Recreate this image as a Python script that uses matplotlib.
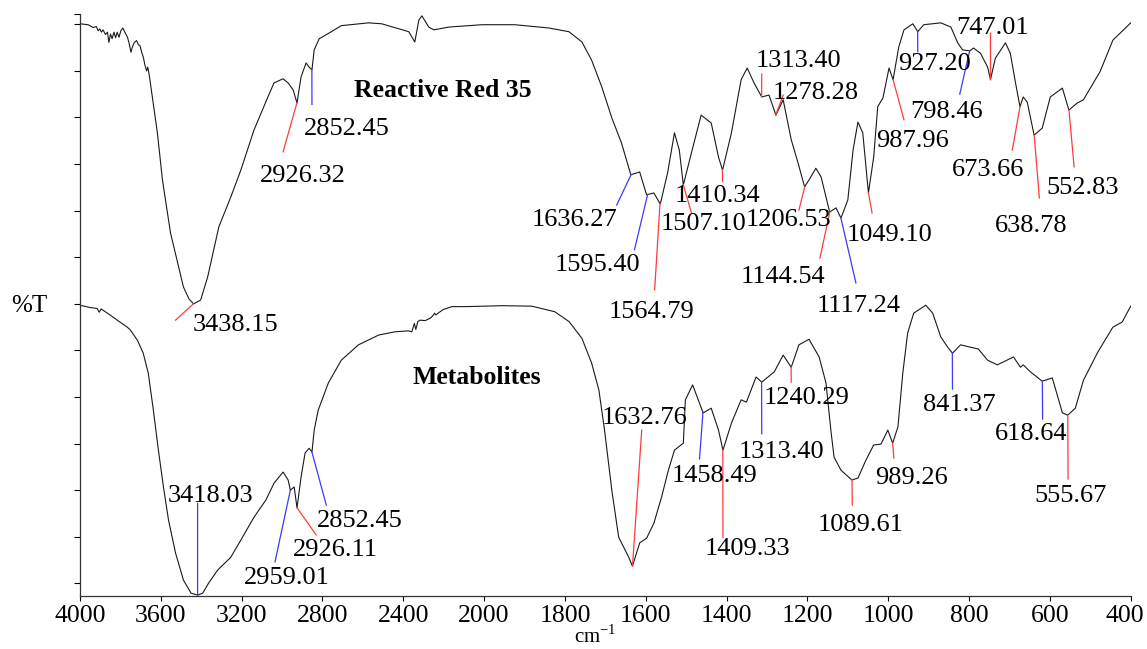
import numpy as np
import matplotlib
matplotlib.use('Agg')
import matplotlib.pyplot as plt
import matplotlib.transforms as mtransforms

plt.rcParams['font.family'] = ['Liberation Serif', 'DejaVu Serif']
plt.rcParams['mathtext.fontset'] = 'custom'
plt.rcParams['mathtext.rm'] = 'Liberation Serif'

# Reactive Red 35 spectrum (wavenumber, arbitrary %T scale)
rr35_wn = [4000, 3960, 3935, 3919, 3910, 3902, 3894, 3886, 3874, 3864, 3857, 3849, 3841, 3832,
           3824, 3816, 3807, 3798, 3788, 3778, 3765, 3756, 3748, 3741, 3731, 3720, 3711, 3703,
           3695, 3687, 3678, 3670, 3665, 3658, 3642, 3617, 3592, 3552, 3517, 3488, 3460, 3438,
           3403, 3368, 3313, 3254, 3204, 3139, 3070, 3040, 2995, 2970, 2945, 2926, 2906, 2881,
           2866, 2852, 2841, 2816, 2756, 2707, 2572, 2507, 2373, 2343, 2323, 2308, 2274, 2249,
           2174, 2010, 1924, 1840, 1790, 1758, 1734, 1709, 1684, 1660, 1637, 1615, 1598, 1580,
           1564, 1546, 1529, 1517, 1507, 1487, 1463, 1438, 1420, 1410, 1388, 1364, 1349, 1332,
           1313, 1295, 1278, 1260, 1240, 1223, 1207, 1196, 1179, 1166, 1145, 1129, 1117, 1100,
           1087, 1075, 1063, 1049, 1036, 1026, 1013, 998, 988, 974, 961, 939, 927, 912, 870,
           845, 828, 816, 798, 789, 772, 754, 747, 735, 710, 698, 685, 674, 666, 656, 639, 619,
           599, 569, 553, 532, 517, 476, 444, 426, 400]
rr35_t = [120.1, 119.9, 119.3, 119.5, 118.6, 119.0, 118.3, 118.8, 117.8, 118.3, 116.1, 117.9,
          116.9, 118.3, 117.1, 118.3, 117.2, 118.6, 119.2, 118.3, 117.2, 115.8, 114.0, 115.1,
          116.1, 116.5, 115.6, 115.4, 114.0, 113.0, 111.1, 110.0, 110.8, 109.3, 104.4, 96.7,
          86.6, 75.2, 68.8, 63.6, 61.0, 60.0, 60.8, 65.8, 76.5, 82.9, 88.7, 97.3, 104.4, 107.4,
          108.3, 107.4, 105.9, 103.1, 108.7, 111.7, 110.8, 110.2, 114.5, 116.9, 118.4, 119.7,
          120.3, 120.1, 118.4, 116.2, 120.9, 121.8, 119.4, 118.8, 119.4, 119.9, 119.9, 119.2,
          118.4, 116.2, 112.3, 106.6, 99.9, 94.5, 87.7, 88.3, 83.4, 83.8, 81.4, 88.1, 96.7,
          93.0, 85.5, 92.4, 100.5, 98.8, 91.5, 88.7, 96.7, 108.1, 110.6, 107.4, 104.4, 104.8,
          100.5, 103.8, 95.2, 90.2, 85.1, 86.6, 89.1, 87.2, 79.7, 80.6, 78.4, 82.3, 93.0, 99.0,
          96.7, 83.8, 91.5, 102.3, 104.2, 110.6, 108.1, 115.1, 118.8, 120.1, 118.4, 119.9,
          120.3, 119.4, 116.0, 114.5, 114.3, 114.9, 113.8, 110.8, 108.1, 112.7, 116.0, 113.8,
          107.4, 102.3, 104.4, 103.3, 96.2, 97.7, 104.4, 106.3, 101.6, 103.1, 103.8, 109.8,
          116.6, 118.1, 120.3]

# Metabolites spectrum
met_wn = [4000, 3950, 3915, 3905, 3895, 3851, 3816, 3766, 3751, 3716, 3687, 3662, 3637, 3612,
          3587, 3562, 3527, 3488, 3450, 3418, 3393, 3363, 3318, 3254, 3204, 3139, 3080, 3040,
          2995, 2970, 2959, 2940, 2926, 2906, 2886, 2866, 2852, 2841, 2821, 2771, 2707, 2622,
          2522, 2441, 2375, 2358, 2350, 2345, 2338, 2328, 2317, 2292, 2267, 2255, 2245, 2239,
          2225, 2201, 2159, 2093, 2010, 1956, 1882, 1825, 1790, 1758, 1734, 1716, 1702, 1684,
          1667, 1642, 1633, 1615, 1598, 1580, 1561, 1544, 1529, 1507, 1502, 1484, 1470, 1458,
          1438, 1420, 1409, 1388, 1364, 1351, 1327, 1313, 1282, 1260, 1240, 1221, 1196, 1171,
          1154, 1142, 1134, 1117, 1090, 1075, 1055, 1036, 1018, 1001, 989, 976, 964, 952, 937,
          907, 890, 870, 853, 841, 821, 777, 754, 730, 690, 673, 666, 648, 619, 594, 569, 556,
          537, 517, 481, 444, 421, 400]
met_t = [59.7, 59.2, 59.0, 58.2, 58.9, 57.6, 56.5, 55.0, 54.4, 52.2, 49.4, 45.1, 37.2, 28.6,
         20.7, 13.6, 6.5, 0.7, -2.1, -2.5, -2.1, 0.1, 2.9, 5.6, 9.3, 14.2, 17.9, 21.5, 23.9,
         22.2, 20.0, 20.7, 16.2, 22.8, 28.0, 29.0, 28.2, 32.9, 37.2, 43.0, 47.9, 51.2, 53.3,
         54.0, 54.2, 54.0, 55.1, 55.8, 54.5, 56.2, 56.5, 56.4, 56.9, 57.4, 58.0, 57.6, 58.1,
         58.8, 59.4, 59.4, 59.5, 59.6, 59.5, 58.3, 56.2, 52.6, 47.3, 41.5, 32.9, 20.0, 9.9,
         5.6, 3.7, 8.7, 9.7, 12.9, 18.5, 24.3, 28.6, 30.1, 39.4, 42.6, 39.4, 36.6, 37.6, 32.9,
         28.6, 34.4, 39.4, 38.9, 44.3, 43.2, 45.4, 49.0, 46.4, 51.2, 52.4, 48.6, 43.0, 32.9,
         27.1, 24.3, 22.2, 22.6, 26.5, 29.7, 29.9, 32.9, 30.1, 33.6, 45.1, 53.7, 58.0, 59.7,
         58.0, 52.9, 50.7, 49.4, 51.2, 50.3, 47.9, 46.9, 48.6, 46.4, 46.9, 45.4, 43.4, 44.1,
         36.6, 36.1, 37.6, 43.6, 49.7, 55.0, 56.1, 59.5]

# peak labels
rr35_peaks = ['3438.15', '2926.32', '2852.45', '1636.27', '1595.40', '1564.79', '1507.10',
              '1410.34', '1313.40', '1278.28', '1206.53', '1144.54', '1117.24', '1049.10',
              '987.96', '927.20', '798.46', '747.01', '673.66', '638.78', '552.83']
met_peaks = ['3418.03', '2959.01', '2926.11', '2852.45', '1632.76', '1458.49', '1409.33',
             '1313.40', '1240.29', '1089.61', '989.26', '841.37', '618.64', '555.67']

xtick_vals = [4000, 3600, 3200, 2800, 2400, 2000, 1800, 1600, 1400, 1200, 1000, 800, 600, 400]

# label layout: line end (wn, y) and text centre (wn, y), line colour
RED, BLUE = '#ff3b3b', '#3b3bff'
rr35_layout = [
    ((3527, 56.5), (3229, 56.1), RED),
    ((2995, 92.6), (2896, 87.9), RED),
    ((2852, 102.8), (2682, 98.0), BLUE),
    ((1672, 81.2), (1776, 78.6), BLUE),
    ((1628, 71.6), (1719, 68.8), BLUE),
    ((1578, 63.0), (1586, 58.7), RED),
    ((1487, 79.5), (1457, 77.6), RED),
    ((1410, 86.2), (1423, 83.6), RED),
    ((1313, 109.3), (1223, 112.6), RED),
    ((1260, 104.8), (1179, 105.7), RED),
    ((1221, 80.1), (1248, 78.6), RED),
    ((1169, 69.8), (1260, 66.4), RED),
    ((1080, 64.5), (1073, 60.0), BLUE),
    ((1040, 79.5), (996, 75.4), RED),
    ((961, 99.5), (939, 95.4), RED),
    ((927, 114.1), (885, 112.1), BLUE),
    ((823, 105.0), (855, 101.8), BLUE),
    ((747, 118.1), (742, 119.7), RED),
    ((693, 93.0), (754, 89.2), RED),
    ((626, 82.7), (646, 77.3), RED),
    ((540, 89.4), (520, 85.3), RED),
]
met_layout = [
    ((3418, 17.2), (3353, 19.4), BLUE),
    ((3035, 4.6), (2975, 1.8), BLUE),
    ((2831, 10.4), (2736, 7.8), RED),
    ((2781, 16.8), (2617, 14.0), BLUE),
    ((1610, 32.9), (1603, 36.1), RED),
    ((1467, 26.7), (1430, 23.5), BLUE),
    ((1409, 9.9), (1349, 8.0), RED),
    ((1313, 32.1), (1265, 28.8), BLUE),
    ((1240, 43.2), (1201, 40.4), RED),
    ((1089, 16.8), (1068, 13.1), RED),
    ((986, 26.9), (942, 23.2), RED),
    ((841, 41.7), (824, 38.9), BLUE),
    ((618, 35.3), (646, 32.5), BLUE),
    ((555, 22.4), (550, 19.2), RED),
]


# FTIR style axis: scale halves above 2000 cm-1
def fwd(w):
    w = np.asarray(w, dtype=float)
    return np.where(w > 2000, 2000 + (w - 2000) / 2.0, w)


def inv(t):
    t = np.asarray(t, dtype=float)
    return np.where(t > 2000, 2000 + (t - 2000) * 2.0, t)


fig = plt.figure(figsize=(11.47, 6.49), dpi=100)
ax = fig.add_axes([80 / 1147, 53 / 649, 1050.7 / 1147, 582 / 649])
ax.set_xscale('function', functions=(fwd, inv))

ax.plot(rr35_wn, rr35_t, color='#1a1a1a', lw=0.8)
ax.plot(met_wn, met_t, color='#1a1a1a', lw=0.8)


def label_peaks(wn, t, peaks, layout):
    order = np.argsort(wn)
    xs = np.array(wn)[order]
    ys = np.array(t)[order]
    for p, (end, txt, col) in zip(peaks, layout):
        pw = float(p)
        py = np.interp(pw, xs, ys)
        ax.plot([pw, end[0]], [py, end[1]], color=col, lw=0.9)
        ax.text(txt[0], txt[1], p, ha='center', va='center_baseline', fontsize=19)


label_peaks(rr35_wn, rr35_t, rr35_peaks, rr35_layout)
label_peaks(met_wn, met_t, met_peaks, met_layout)

ax.text(2204, 106.3, 'Reactive Red 35', ha='center', va='center_baseline',
        fontsize=18.5, fontweight='bold')
ax.text(2035, 44.7, 'Metabolites', ha='center', va='center_baseline',
        fontsize=18.5, fontweight='bold')

ax.set_xlim(4000, 400)
ax.set_ylim(-2.7, 122.2)
ax.set_xticks(xtick_vals, labels=[str(v) for v in xtick_vals])
ax.set_yticks(list(np.arange(0, 121, 10)) + [122.2])
ax.tick_params(axis='y', labelleft=False, direction='out', length=4, width=0.8)
ax.tick_params(axis='x', direction='out', length=3.5, width=0.8, labelsize=18.5, pad=3)
ax.xaxis.set_minor_locator(matplotlib.ticker.NullLocator())
ax.spines['top'].set_visible(False)
ax.spines['right'].set_visible(False)
for s in ('left', 'bottom'):
    ax.spines[s].set_linewidth(0.9)
    ax.spines[s].set_color('#333333')

# last tick label sits a little left of its tick, as in the original
last = ax.get_xticklabels()[-1]
last.set_transform(last.get_transform() + mtransforms.ScaledTranslation(-6 / 100, 0, fig.dpi_scale_trans))

fig.text(29 / 1147, 1 - 303 / 649, '%T', ha='center', va='center_baseline', fontsize=18)
fig.text(595 / 1147, 1 / 649, 'cm$^{-1}$', ha='center', va='bottom', fontsize=15)

fig.savefig('out.png', dpi=100)
